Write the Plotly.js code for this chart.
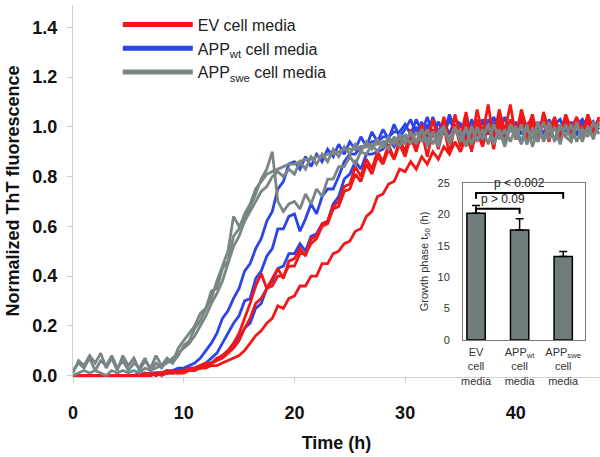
<!DOCTYPE html>
<html>
<head>
<meta charset="utf-8">
<script src="https://cdn.plot.ly/plotly-3.0.1.min.js"></script>
<style>html,body{margin:0;padding:0;background:#fff;}#chart{width:600px;height:457px;}</style>
</head>
<body>
<div id="chart"></div>
<script>
// Time grid (h)
const time = [0,0.5,1,1.5,2,2.5,3,3.5,4,4.5,5,5.5,6,6.5,7,7.5,8,8.5,9,9.5,
10,10.5,11,11.5,12,12.5,13,13.5,14,14.5,15,15.5,16,16.5,17,17.5,18,18.5,19,19.5,
20,20.5,21,21.5,22,22.5,23,23.5,24,24.5,25,25.5,26,26.5,27,27.5,28,28.5,29,29.5,
30,30.5,31,31.5,32,32.5,33,33.5,34,34.5,35,35.5,36,36.5,37,37.5,38,38.5,39,39.5,
40,40.5,41,41.5,42,42.5,43,43.5,44,44.5,45,45.5,46,46.5,47,47.5];

// EV cell media (red)
const ev1 = [0,0,0,0,0,0,0,0,0,0, 0,0,0,0.01,0,0.01,0.01,0.02,0.01,0.02,
0.02,0.03,0.03,0.04,0.05,0.05,0.07,0.08,0.1,0.13, 0.17,0.23,0.29,0.36,0.41,0.35,0.39,0.43,0.39,0.46,
0.47,0.51,0.48,0.55,0.56,0.61,0.62,0.68,0.7,0.76, 0.77,0.84,0.8,0.87,0.83,0.9,0.86,0.93,0.87,0.95,
0.9,0.99,0.92,1.01,0.93,1.03,0.95,1.04,0.93,1.05, 0.96,1.06,0.94,1.07,0.97,1.09,0.95,1.07,0.98,1.09,
0.96,1.07,0.99,1.05,0.95,1.06,0.98,1.04,0.96,1.05, 0.99,1.04,0.97,1.05,0.99,1.03];
const ev2 = [0,0,0,0,0,0,0,0,0,0, 0,0,0,0,0.01,0,0.01,0.01,0.02,0.01,
0.02,0.02,0.03,0.03,0.04,0.05,0.06,0.07,0.09,0.11, 0.14,0.19,0.23,0.29,0.31,0.35,0.36,0.4,0.4,0.44,
0.44,0.49,0.49,0.53,0.55,0.6,0.61,0.67,0.68,0.74, 0.75,0.81,0.78,0.85,0.81,0.88,0.85,0.91,0.87,0.93,
0.88,0.96,0.9,0.98,0.88,0.99,0.91,1.0,0.89,1.01, 0.92,1.02,0.9,1.03,0.93,1.01,0.91,1.04,0.94,1.02,
0.95,1.03,0.93,1.04,0.96,1.02,0.94,1.03,0.97,1.04, 0.96,1.02,0.95,1.03,0.97,1.04];
const ev3 = [0,0,0,0,0,0,0,0,0,0, 0,0,0,0,0,0.01,0,0.01,0.01,0.01,
0.01,0.02,0.02,0.03,0.03,0.04,0.04,0.05,0.06,0.07, 0.08,0.1,0.13,0.16,0.18,0.21,0.23,0.28,0.27,0.31,
0.32,0.36,0.36,0.4,0.4,0.45,0.45,0.49,0.5,0.53, 0.54,0.58,0.59,0.64,0.66,0.72,0.73,0.77,0.78,0.83,
0.82,0.86,0.83,0.88,0.85,0.9,0.87,0.92,0.89,0.94, 0.9,0.96,0.91,0.98,0.92,1.0,0.93,1.01,0.94,1.03,
0.95,1.04,0.96,1.02,0.94,1.03,0.97,1.02,0.95,1.04, 0.97,1.03,0.99,1.02,0.98,1.03];

// APPwt cell media (blue)
const wt1 = [0,0,0,0,0,0,0,0,0,0, 0,0,0.01,0,0.01,0.01,0.01,0.02,0.02,0.03,
0.03,0.04,0.05,0.07,0.1,0.13,0.17,0.23,0.26,0.31, 0.35,0.42,0.45,0.51,0.55,0.62,0.66,0.75,0.78,0.85,
0.86,0.83,0.88,0.84,0.89,0.86,0.91,0.88,0.93,0.89, 0.94,0.91,0.96,0.92,0.98,0.94,0.99,0.95,1.01,0.96,
0.99,1.03,0.97,1.02,0.96,1.04,0.98,1.02,0.97,1.03, 1.01,0.96,1.03,0.98,1.02,0.97,1.04,0.99,0.96,1.02,
0.98,1.03,0.97,1.02,0.98,1.01,0.96,1.03,0.98,1.02, 0.97,1.01,1.03,0.98,1.02,0.99];
const wt2 = [0,0,0,0,0,0,0,0,0,0, 0,0,0,0.01,0,0.01,0.01,0.01,0.02,0.02,
0.02,0.03,0.03,0.04,0.05,0.07,0.09,0.13,0.17,0.21, 0.24,0.3,0.31,0.39,0.42,0.48,0.51,0.59,0.59,0.64,
0.65,0.58,0.63,0.69,0.65,0.72,0.75,0.75,0.8,0.86, 0.89,0.89,0.92,0.92,0.94,0.94,0.96,0.96,0.98,0.98,
1.01,0.97,1.03,0.98,1.04,0.97,1.02,0.98,1.05,0.99, 0.97,1.03,0.98,1.02,0.96,1.03,0.99,0.97,1.04,0.98,
1.02,0.97,1.01,1.03,0.98,1.02,0.97,1.01,1.03,0.98, 1.02,0.97,1.01,1.03,0.98,1.01];
const wt3 = [0,0,0,0,0,0,0,0,0,0, 0,0,0,0,0.01,0,0.01,0.01,0.01,0.02,
0.02,0.02,0.03,0.03,0.04,0.05,0.06,0.08,0.1,0.12, 0.15,0.19,0.21,0.27,0.29,0.35,0.38,0.43,0.44,0.49,
0.49,0.53,0.5,0.56,0.57,0.61,0.62,0.69,0.72,0.79, 0.81,0.86,0.83,0.89,0.89,0.9,0.91,0.95,0.92,0.96,
0.96,0.94,1.0,0.95,1.01,0.96,1.02,0.97,1.03,0.98, 1.01,0.96,1.02,0.98,1.03,0.97,1.01,1.04,0.98,1.02,
0.97,1.03,0.99,0.98,1.02,0.97,1.03,0.99,0.98,1.02, 0.99,0.97,1.03,0.98,1.02,0.99];

// APPswe cell media (gray)
const swe1 = [0.01,0.06,0.04,0.08,0.05,0.09,0.03,0.07,0.02,0.08, 0.04,0.07,0.02,0.06,0.03,0.08,0.04,0.07,0.05,0.11,
0.14,0.17,0.2,0.25,0.27,0.34,0.35,0.43,0.46,0.56, 0.59,0.65,0.69,0.75,0.78,0.81,0.82,0.83,0.84,0.85,
0.85,0.86,0.87,0.87,0.88,0.88,0.89,0.89,0.9,0.91, 0.91,0.91,0.92,0.92,0.93,0.93,0.94,0.94,0.95,0.95,
0.94,0.98,0.93,0.99,0.94,0.98,0.92,0.99,0.95,1.0, 0.94,0.99,0.93,1.0,0.95,1.01,0.94,0.99,0.92,1.0,
0.95,1.01,0.93,0.99,0.94,1.02,0.95,1.0,0.93,1.01, 0.95,1.02,0.94,1.0,0.96,1.01];
const swe2 = [0.02,0.05,0.03,0.07,0.02,0.06,0.04,0.08,0.03,0.06, 0.02,0.05,0.03,0.07,0.02,0.05,0.03,0.06,0.05,0.08,
0.12,0.14,0.19,0.22,0.27,0.31,0.38,0.44,0.5,0.64, 0.6,0.63,0.68,0.73,0.79,0.83,0.9,0.7,0.66,0.69,
0.7,0.67,0.73,0.69,0.75,0.72,0.79,0.79,0.84,0.84, 0.88,0.85,0.9,0.89,0.93,0.9,0.94,0.91,0.96,0.92,
0.97,0.93,0.98,0.94,0.99,0.93,0.98,1.0,0.94,0.99, 0.95,1.0,0.93,0.99,0.95,1.01,0.93,0.98,0.94,1.01,
0.98,0.93,1.0,0.95,1.02,0.94,0.99,0.95,1.01,0.96, 0.94,1.01,0.96,1.0,0.95,1.02];
const swe3 = [0,0.01,0.02,0.01,0.02,0.01,0,0.02,0.01,0.02, 0.01,0.02,0.01,0.03,0.02,0.03,0.04,0.05,0.07,0.09,
0.11,0.13,0.16,0.2,0.24,0.29,0.33,0.38,0.45,0.52, 0.56,0.62,0.66,0.7,0.74,0.76,0.8,0.82,0.8,0.83,
0.81,0.86,0.83,0.88,0.85,0.89,0.86,0.91,0.88,0.92, 0.89,0.93,0.9,0.94,0.91,0.95,0.92,0.96,0.93,0.97,
0.93,0.98,0.94,0.99,0.92,0.98,0.95,1.0,0.93,0.99, 0.98,0.92,1.0,0.94,0.99,0.93,1.01,0.95,0.99,0.94,
1.0,0.94,1.01,0.92,0.99,0.95,1.02,0.94,1.0,0.96, 1.01,0.94,0.99,0.96,1.02,0.97];

// Inset bar chart
const barCategories = ["EV<br>cell<br>media", "APP<sub>wt</sub><br>cell<br>media", "APP<sub>swe</sub><br>cell<br>media"];
const barPositions = [0, 1, 2];
const barValues = [20.2, 17.5, 13.3];
const barErrors = [1.2, 1.8, 0.8];

const seriesNames = ["EV cell media", "APP<sub>wt</sub> cell media", "APP<sub>swe</sub> cell media"];
const RED = "#f21818", BLUE = "#2b45e8", GRAY = "#7a8585";

const FONT = "Liberation Sans, Arial, Helvetica, sans-serif";
const traces = [];
function curve(y, color) {
  traces.push({x: time, y: y, type: "scatter", mode: "lines", showlegend: false,
    hoverinfo: "skip", line: {color: color, width: 2.8}, xaxis: "x", yaxis: "y"});
}
[wt1, wt2, wt3].forEach(y => curve(y, BLUE));
[ev1, ev2, ev3].forEach(y => curve(y, RED));
[swe1, swe2, swe3].forEach(y => curve(y, GRAY));

// legend entries
[[seriesNames[0], RED], [seriesNames[1], BLUE], [seriesNames[2], GRAY]].forEach(([n, c]) => {
  traces.push({x: [null], y: [null], type: "scatter", mode: "lines", name: n,
    line: {color: c, width: 5}, showlegend: true, xaxis: "x", yaxis: "y"});
});

// inset bars
traces.push({x: barPositions, y: barValues, type: "bar", width: 0.42, showlegend: false,
  xaxis: "x2", yaxis: "y2",
  marker: {color: "#6f7c7c", line: {color: "#000", width: 1.5}},
  error_y: {type: "data", array: barErrors, symmetric: false, arrayminus: [0,0,0],
    color: "#000", thickness: 1.5, width: 4}});

const layout = {
  width: 600, height: 457,
  margin: {l: 73, r: 0, t: 5, b: 80},
  paper_bgcolor: "#fff", plot_bgcolor: "rgba(0,0,0,0)",
  font: {family: FONT, color: "#111"},
  showlegend: true,
  legend: {x: 0.085, y: 0.993, xanchor: "left", yanchor: "top", bgcolor: "rgba(0,0,0,0)",
    font: {family: FONT, size: 16, color: "#222"}, itemwidth: 70, tracegroupgap: 0},
  xaxis: {domain: [0, 1], range: [0, 47.6], showgrid: false, zeroline: false,
    showline: true, linecolor: "#d0d0d0", linewidth: 1, ticks: "outside", ticklen: 5,
    tickcolor: "#d0d0d0", tickvals: [0, 10, 20, 30, 40], ticklabelstandoff: 14,
    tickfont: {family: FONT, size: 18, color: "#111", weight: "bold"},
    title: {text: "<b>Time (h)</b>", font: {family: FONT, size: 18, color: "#111"}, standoff: 14}},
  yaxis: {domain: [0, 1], range: [-0.006, 1.49], showgrid: false, zeroline: false,
    showline: true, linecolor: "#d0d0d0", linewidth: 1, ticks: "outside", ticklen: 5,
    tickcolor: "#d0d0d0", tickvals: [0, 0.2, 0.4, 0.6, 0.8, 1.0, 1.2, 1.4], tickformat: ".1f",
    ticklabelstandoff: 6,
    tickfont: {family: FONT, size: 18, color: "#111", weight: "bold"},
    title: {text: "<b>Normalized ThT fluorescence</b>", font: {family: FONT, size: 18, color: "#111"}, standoff: 8}},
  xaxis2: {domain: [0.74, 0.9715], anchor: "y2", range: [-0.3, 2.5], showgrid: false, zeroline: false,
    showline: true, mirror: true, linecolor: "#777", linewidth: 1, ticks: "",
    tickvals: barPositions, ticktext: barCategories, ticklabelstandoff: 2,
    tickfont: {family: FONT, size: 11, color: "#333"}},
  yaxis2: {domain: [0.0995, 0.5215], anchor: "x2", range: [0, 25], showgrid: false, zeroline: false,
    showline: true, mirror: true, linecolor: "#777", linewidth: 1, ticks: "",
    tickvals: [0, 5, 10, 15, 20, 25], ticklabelstandoff: 10,
    tickfont: {family: FONT, size: 11, color: "#333"},
    title: {text: "Growth phase t<sub>50</sub> (h)", font: {family: FONT, size: 11, color: "#333"}, standoff: 6}},
  shapes: [
    {type: "path", xref: "x2", yref: "y2", path: "M0,22.5 L0,23.4 L2,23.4 L2,22.5",
      line: {color: "#000", width: 2}},
    {type: "path", xref: "x2", yref: "y2", path: "M0,20.1 L0,20.9 L1,20.9 L1,20.1",
      line: {color: "#000", width: 2}}
  ],
  annotations: [
    {xref: "x2", yref: "y2", x: 1.0, y: 23.5, text: "p &lt; 0.002", showarrow: false,
      xanchor: "center", yanchor: "bottom", font: {family: FONT, size: 12, color: "#222"}},
    {xref: "x2", yref: "y2", x: 0.62, y: 21.0, text: "p &gt; 0.09", showarrow: false,
      xanchor: "center", yanchor: "bottom", font: {family: FONT, size: 12, color: "#222"}}
  ]
};

Plotly.newPlot("chart", traces, layout, {displayModeBar: false, staticPlot: true});
</script>
</body>
</html>
